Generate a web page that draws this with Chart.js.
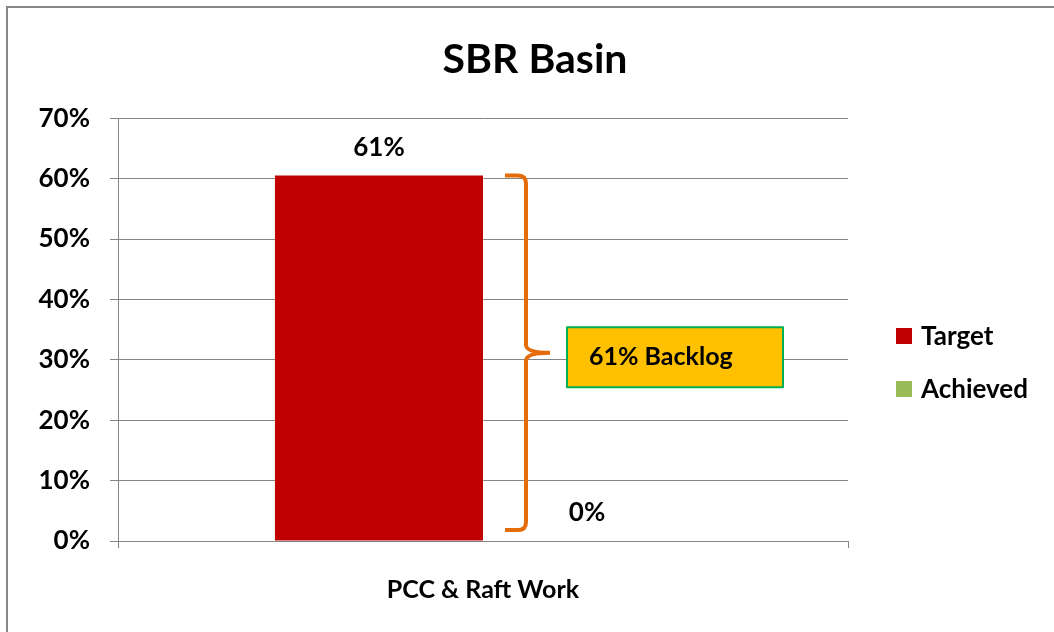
<!DOCTYPE html>
<html>
<head>
<meta charset="utf-8">
<script src="https://cdn.jsdelivr.net/npm/chart.js@4"></script>
<style>
  html, body { margin: 0; padding: 0; background: #fff; }
  #wrap { width: 1054px; height: 632px; position: relative; }
  canvas { display: block; }
</style>
</head>
<body>
<div id="wrap"><canvas id="c" width="1054" height="632"></canvas></div>
<script>
const titleText = 'SBR Basin';
const categories = ['PCC & Raft Work'];
const seriesNames = ['Target', 'Achieved'];
const targetValues = [60.5];
const achievedValues = [0];
const seriesColors = ['#C00000', '#9BBB59'];
const backlogText = '61% Backlog';
const yMax = 70;
const yStep = 10;

const FONT = 'Lato, "Open Sans", sans-serif';
const W = 'bold';
const GRID = '#858585';

const borderPlugin = {
  id: 'frame',
  beforeDraw(chart) {
    const ctx = chart.ctx;
    ctx.save();
    ctx.fillStyle = '#fff';
    ctx.fillRect(0, 0, chart.width, chart.height);
    ctx.strokeStyle = '#868686';
    ctx.lineWidth = 2;
    ctx.strokeRect(7, 7, chart.width + 20, chart.height + 20);
    ctx.restore();
  }
};

const labelsPlugin = {
  id: 'valueLabels',
  afterDatasetsDraw(chart) {
    const ctx = chart.ctx;
    ctx.save();
    ctx.font = W + ' 26px ' + FONT;
    ctx.fillStyle = '#000';
    ctx.textAlign = 'center';
    ctx.textBaseline = 'middle';
    chart.data.datasets.forEach((ds, i) => {
      const meta = chart.getDatasetMeta(i);
      meta.data.forEach((bar, j) => {
        const v = ds.data[j];
        ctx.fillText(Math.round(v) + '%', bar.x, bar.y - 28);
      });
    });
    ctx.restore();
  }
};

const bracePlugin = {
  id: 'brace',
  afterDatasetsDraw(chart) {
    const ctx = chart.ctx;
    const ys = chart.scales.y;
    const bar = chart.getDatasetMeta(0).data[0];
    const right = bar.x + bar.width / 2;
    const top = ys.getPixelForValue(targetValues[0]);
    const bot = ys.getPixelForValue(0) - 11;
    const mid = (top + bot) / 2;
    const x0 = right + 22, xs = right + 43, xt = right + 67;
    ctx.save();
    ctx.strokeStyle = '#E46C0A';
    ctx.lineWidth = 4;
    ctx.lineJoin = 'round';
    ctx.lineCap = 'butt';
    ctx.beginPath();
    ctx.moveTo(x0, top);
    ctx.lineTo(xs - 8, top);
    ctx.quadraticCurveTo(xs, top, xs, top + 8);
    ctx.lineTo(xs, mid - 8);
    ctx.quadraticCurveTo(xs, mid, xt, mid);
    ctx.moveTo(xt, mid);
    ctx.quadraticCurveTo(xs, mid, xs, mid + 8);
    ctx.lineTo(xs, bot - 8);
    ctx.quadraticCurveTo(xs, bot, xs - 8, bot);
    ctx.lineTo(x0, bot);
    ctx.stroke();

    const bx = right + 84, bw = 216, bh = 60;
    const by = mid + 4.5 - bh / 2;
    ctx.fillStyle = '#FFC000';
    ctx.fillRect(bx, by, bw, bh);
    ctx.strokeStyle = '#00B050';
    ctx.lineWidth = 2;
    ctx.strokeRect(bx, by, bw, bh);
    ctx.fillStyle = '#000';
    ctx.font = W + ' 25px ' + FONT;
    ctx.textAlign = 'left';
    ctx.textBaseline = 'middle';
    ctx.fillText(backlogText, bx + 22, by + bh / 2);
    ctx.restore();
  }
};

const legendPlugin = {
  id: 'customLegend',
  afterDraw(chart) {
    const ctx = chart.ctx;
    const x = chart.chartArea.right + 48;
    let y = 336;
    ctx.save();
    ctx.font = W + ' 26px ' + FONT;
    ctx.textAlign = 'left';
    ctx.textBaseline = 'middle';
    chart.data.datasets.forEach(ds => {
      ctx.fillStyle = ds.backgroundColor;
      ctx.fillRect(x, y - 8, 16, 16);
      ctx.fillStyle = '#000';
      ctx.fillText(ds.label, x + 25, y + 1);
      y += 53;
    });
    ctx.restore();
  }
};

new Chart(document.getElementById('c'), {
  type: 'bar',
  data: {
    labels: categories,
    datasets: [
      { label: seriesNames[0], data: targetValues, backgroundColor: seriesColors[0] },
      { label: seriesNames[1], data: achievedValues, backgroundColor: seriesColors[1] }
    ]
  },
  options: {
    responsive: false,
    animation: false,
    events: [],
    layout: { padding: { left: 16, right: 0, top: 0, bottom: 29 } },
    datasets: { bar: { categoryPercentage: 0.57, barPercentage: 1.0 } },
    plugins: {
      legend: { display: false },
      tooltip: { enabled: false },
      title: {
        display: true,
        text: titleText,
        color: '#000',
        font: { family: FONT, size: 41, weight: W },
        padding: { top: 35, bottom: 34 }
      }
    },
    scales: {
      x: {
        offset: true,
        afterFit(s) { s.height = 62; },
        grid: { offset: true, drawOnChartArea: false, drawTicks: true, tickLength: 7, color: GRID, lineWidth: 1 },
        border: { color: GRID, width: 1 },
        ticks: { color: '#000', font: { family: FONT, size: 25, weight: W }, padding: 27 }
      },
      y: {
        min: 0, max: yMax,
        afterFit(s) { s.width = 102; },
        ticks: { stepSize: yStep, color: '#000', padding: 20, font: { family: FONT, size: 26, weight: W }, callback: v => v + '%' },
        grid: { color: GRID, lineWidth: 1, tickLength: 8 },
        border: { color: GRID, width: 1 }
      },
      yR: {
        position: 'right',
        display: true,
        afterFit(s) { s.width = 206; },
        grid: { display: false, drawOnChartArea: false },
        border: { display: false },
        ticks: { display: false }
      }
    }
  },
  plugins: [borderPlugin, labelsPlugin, bracePlugin, legendPlugin]
});
</script>
</body>
</html>
